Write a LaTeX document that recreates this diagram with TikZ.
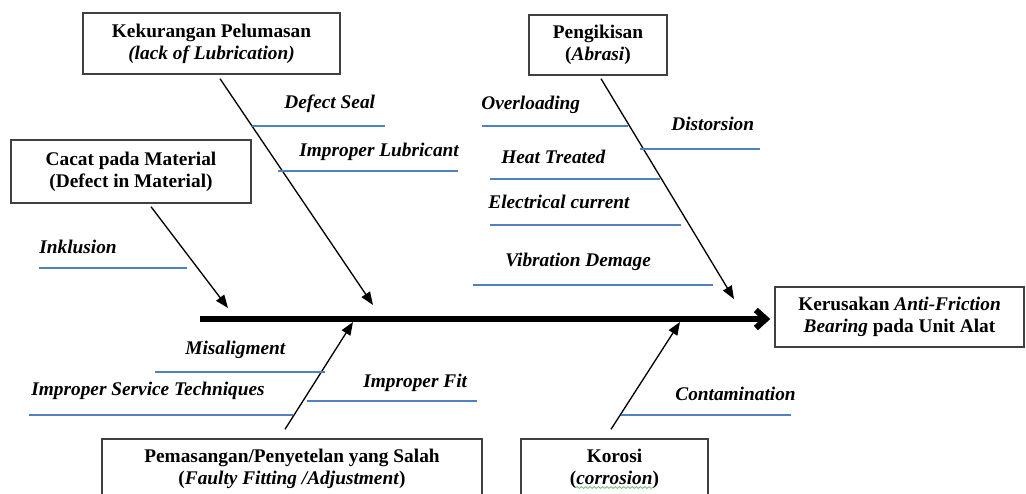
\documentclass[tikz,border=0pt]{standalone}
\usepackage{fontspec}
\setmainfont{Liberation Serif}
\usetikzlibrary{arrows.meta,decorations.pathmorphing}
\definecolor{lineblue}{RGB}{79,129,189}
\definecolor{spellgreen}{RGB}{110,190,110}

\begin{document}
\begin{tikzpicture}[
    cause/.style={draw=black!75, line width=0.8pt, align=center, inner sep=0pt,
        font=\bfseries\fontsize{11}{12.5}\selectfont},
    subcause/.style={anchor=base west, inner sep=0pt,
        font=\bfseries\itshape\fontsize{11}{13}\selectfont},
    subline/.style={draw=lineblue, line width=0.6pt},
    bone/.style={line width=0.75pt, -{Triangle[length=0.26cm,width=0.2cm]}},
    spine/.style={line width=3.4pt, -{Straight Barb[length=0.2cm,width=0.36cm]}},
    squiggle/.style={draw=spellgreen, line width=0.45pt,
        decorate, decoration={snake, amplitude=0.5pt, segment length=2.4pt}}
]
    \useasboundingbox (0,0) rectangle (20.52,9.86);

    % Main boxes
    \node[cause, minimum width=5.14cm, minimum height=1.22cm] (lubrication) at (4.23,8.99)
        {Kekurangan Pelumasan\\\textit{(lack of Lubrication)}};
    \node[cause, minimum width=4.8cm, minimum height=1.26cm] (material) at (2.62,6.43)
        {Cacat pada Material\\(Defect in Material)};
    \node[cause, minimum width=2.76cm, minimum height=1.2cm] (abrasion) at (11.96,8.96)
        {Pengikisan\\(\textit{Abrasi})};
    \node[cause, minimum width=4.98cm, minimum height=1.2cm] (effect) at (17.99,3.52)
        {Kerusakan \textit{Anti-Friction}\\\textit{Bearing} pada Unit Alat};
    \node[cause, minimum width=7.6cm, minimum height=1.2cm] (fitting) at (5.84,0.48)
        {Pemasangan/Penyetelan yang Salah\\(\textit{Faulty Fitting /Adjustment})};
    \node[cause, minimum width=3.74cm, minimum height=1.2cm] (corrosion) at (12.29,0.48)
        {Korosi\\(\textit{corrosion})};
    \draw[squiggle] (11.52,0.11) -- (13.06,0.11);

    % Spine
    \coordinate (head) at (4.0,3.48);
    \draw[spine] (head) -- ([xshift=-0.08cm]head -| effect.west);

    % Points where the bones meet the spine
    \coordinate (tipA) at (7.46,3.76);
    \coordinate (tipB) at (4.56,3.70);
    \coordinate (tipC) at (14.68,3.88);
    \coordinate (tipD) at (7.06,3.42);
    \coordinate (tipE) at (13.60,3.42);

    % Bones
    \draw[bone] ([xshift=0.17cm,yshift=-0.08cm]lubrication.south) -- (tipA);
    \draw[bone] ([xshift=0.40cm,yshift=-0.06cm]material.south) -- (tipB);
    \draw[bone] ([xshift=0.06cm,yshift=-0.06cm]abrasion.south) -- (tipC);
    \draw[bone] ([xshift=-0.14cm,yshift=0.18cm]fitting.north) -- (tipD);
    \draw[bone] ([xshift=-0.07cm,yshift=0.18cm]corrosion.north) -- (tipE);

    % Sub causes
    \node[subcause] (seal) at (5.68,7.70) {Defect Seal};
    \draw[subline] (5.04,7.34) -- (7.70,7.34);
    \node[subcause] (lubricant) at (5.98,6.74) {Improper Lubricant};
    \draw[subline] (5.56,6.44) -- (9.16,6.44);

    \node[subcause] (overload) at (9.62,7.68) {Overloading};
    \draw[subline] (9.64,7.34) -- (12.56,7.34);
    \node[subcause] (distortion) at (13.42,7.26) {Distorsion};
    \draw[subline] (12.80,6.88) -- (15.20,6.88);
    \node[subcause] (heat) at (10.02,6.60) {Heat Treated};
    \draw[subline] (9.80,6.28) -- (13.20,6.28);
    \node[subcause] (current) at (9.76,5.70) {Electrical current};
    \draw[subline] (9.80,5.36) -- (13.62,5.36);
    \node[subcause] (vibration) at (10.10,4.54) {Vibration Demage};
    \draw[subline] (9.46,4.16) -- (14.26,4.16);

    \node[subcause] (inclusion) at (0.78,4.80) {Inklusion};
    \draw[subline] (0.78,4.50) -- (3.74,4.50);

    \node[subcause] (misalign) at (3.70,2.78) {Misaligment};
    \draw[subline] (3.10,2.42) -- (6.50,2.42);
    \node[subcause] (service) at (0.62,1.96) {Improper Service Techniques};
    \draw[subline] (0.58,1.56) -- (5.86,1.56);
    \node[subcause] (fit) at (7.26,2.12) {Improper Fit};
    \draw[subline] (6.14,1.84) -- (9.54,1.84);

    \node[subcause] (contamination) at (13.50,1.86) {Contamination};
    \draw[subline] (12.42,1.56) -- (15.82,1.56);
\end{tikzpicture}
\end{document}
